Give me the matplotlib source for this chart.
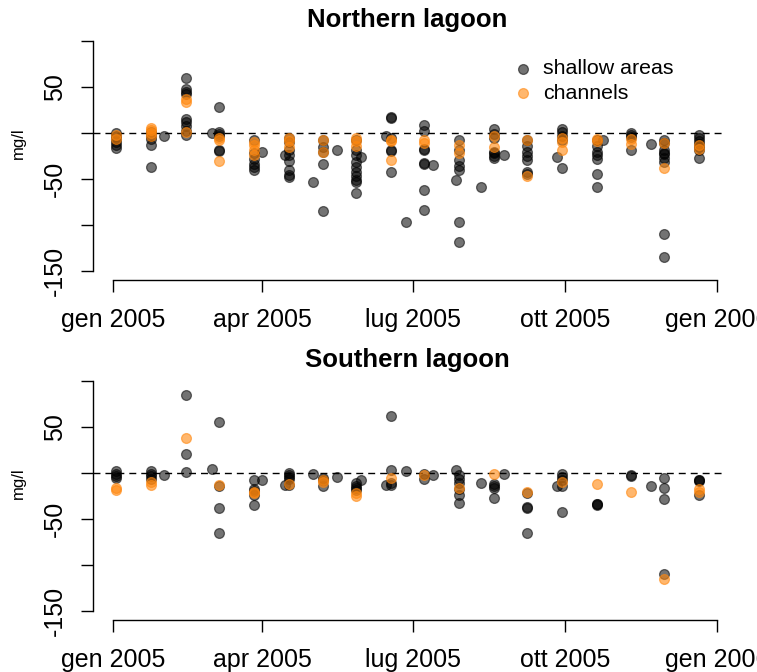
import matplotlib
matplotlib.use('Agg')
import matplotlib.pyplot as plt
import matplotlib.dates as mdates
import pandas as pd

plt.rcParams['font.family'] = ['Liberation Sans', 'DejaVu Sans']

# sampling dates (2005) and values in mg/l, one list per date
nord_date = ['01-03', '01-24', '02-01', '02-14', '03-02', '03-06', '03-27', '04-01',
             '04-15', '04-17', '05-02', '05-08', '05-16', '05-28', '05-31', '06-15',
             '06-18', '06-27', '07-08', '07-13', '07-27', '07-29', '08-11', '08-19',
             '08-25', '09-08', '09-26', '09-29', '10-20', '10-24', '11-10', '11-22',
             '11-30', '12-21']
nord_shallow = [[0, -3, -6, -10, -13, -16], [1, -3, -6, -13, -37], [-3],
                [60, 48, 45, 42, 15, 12, 8, 2, -2], [0], [28, 1, -1, -3, -18, -19],
                [-8, -22, -28, -33, -37, -40], [-20], [-24],
                [-5, -10, -18, -24, -30, -40, -45, -48], [-53], [-8, -15, -20, -33, -85],
                [-18], [-8, -18, -24, -31, -37, -42, -47, -51, -53, -65], [-26], [-3],
                [17, 16, -5, -18, -19, -42], [-97], [9, 2, -17, -18, -32, -33, -62, -84],
                [-35], [-51], [-8, -18, -29, -36, -40, -97, -118], [-58],
                [4, -1, -5, -20, -22, -25, -27], [-24], [-7, -14, -20, -25, -29, -42, -44],
                [-26], [4, 1, -3, -8, -38], [-7, -14, -20, -24, -28, -44, -59], [-8],
                [0, -2, -4, -18], [-12], [-7, -11, -18, -22, -23, -27, -31, -110, -134],
                [-2, -5, -9, -12, -15, -18, -27]]
nord_channels = [[-2, -6], [6, 3, 0, -3], [], [37, 34, 1], [], [-5, -8, -30],
                 [-10, -13, -18, -24], [], [], [-5, -9, -15], [], [-7, -21], [],
                 [-5, -9, -14], [], [], [-7, -9, -29], [], [-8, -11], [], [], [-13, -22],
                 [], [-3, -15], [], [-8, -47], [], [-5, -10, -18], [-6, -9], [],
                 [-6, -12], [], [-11, -38], [-13, -17]]

sud_date = ['01-03', '01-24', '02-01', '02-14', '03-02', '03-06', '03-27', '04-01',
            '04-15', '04-17', '05-02', '05-08', '05-16', '05-28', '05-31', '06-15',
            '06-18', '06-27', '07-08', '07-13', '07-27', '07-29', '08-11', '08-19',
            '08-25', '09-08', '09-26', '09-29', '10-20', '11-10', '11-22', '11-30',
            '12-21']
sud_shallow = [[2, -1, -3, -5], [2, -1, -3, -6], [-2], [85, 21, 1], [4], [56, -14, -38, -65],
               [-8, -17, -19, -24, -35], [-7], [-13], [0, -2, -4, -6, -13], [-1],
               [-5, -8, -14], [-4], [-11, -14, -16, -18], [-7], [-13], [62, 3, -11, -13],
               [2], [-1, -6], [-2], [3], [-2, -6, -11, -17, -24, -32], [-11],
               [-12, -14, -16, -27], [-1], [-22, -37, -38, -65], [-14],
               [-1, -4, -8, -14, -42], [-33, -34, -35], [-2, -3], [-14],
               [-5, -16, -28, -109], [-7, -8, -9, -24]]
sud_channels = [[-16, -18], [-10, -13], [], [38], [], [-13], [-20, -22], [], [], [-12], [],
                [-7, -10], [], [-22, -25], [], [], [-5], [], [-2], [], [], [-16], [], [-1],
                [], [-20], [], [-10], [-12], [-21], [], [-115], [-17, -20]]

xtick_date = ['2005-01-01', '2005-04-01', '2005-07-01', '2005-10-01', '2006-01-01']
xtick_lab = ['gen 2005', 'apr 2005', 'lug 2005', 'ott 2005', 'gen 2006']
ytick_val = [100, 50, 0, -50, -100, -150]
ytick_lab = ['', '50', '', '-50', '', '-150']


def espandi(date, gruppi):
    xx, yy = [], []
    for d, vals in zip(date, gruppi):
        for v in vals:
            xx.append(pd.Timestamp('2005-' + d))
            yy.append(v)
    return xx, yy


col_sh = (0, 0, 0, 0.55)
col_ch = (1.0, 0.53, 0.05, 0.6)
inizio = pd.Timestamp('2005-01-01')

fig = plt.figure(figsize=(7.57, 6.72), dpi=100)
ax1 = fig.add_axes([0.12285, 0.58259, 0.83091, 0.37009])
ax2 = fig.add_axes([0.12285, 0.07664, 0.83091, 0.37009])

pannelli = [(ax1, 'Northern lagoon', nord_date, nord_shallow, nord_channels),
            (ax2, 'Southern lagoon', sud_date, sud_shallow, sud_channels)]

for ax, titolo, date, sh, ch in pannelli:
    xs, ys = espandi(date, sh)
    xc, yc = espandi(date, ch)
    ax.scatter(xs, ys, s=50, color=col_sh, edgecolors=col_sh, linewidths=0.9, label='shallow areas', zorder=3)
    ax.scatter(xc, yc, s=50, color=col_ch, edgecolors=col_ch, linewidths=0.9, label='channels', zorder=3)
    ax.axhline(0, color='black', lw=1.0, ls=(0, (5, 3.6)), zorder=2)
    ax.set_xlim(inizio - pd.Timedelta(days=12.08), inizio + pd.Timedelta(days=367.75))
    ax.set_ylim(-160, 110)
    for s in ['top', 'right']:
        ax.spines[s].set_visible(False)
    ax.spines['left'].set_bounds(-150, 100)
    ax.spines['bottom'].set_bounds(mdates.date2num(pd.Timestamp('2005-01-01')),
                                   mdates.date2num(pd.Timestamp('2006-01-01')))
    ax.spines['left'].set_linewidth(1.0)
    ax.spines['bottom'].set_linewidth(1.0)
    ax.set_xticks([pd.Timestamp(d) for d in xtick_date], xtick_lab, fontsize=18)
    ax.set_yticks(ytick_val, ytick_lab, fontsize=18, rotation=90, va='center', ha='center')
    ax.tick_params(axis='x', length=8.6, width=1.0, pad=11.2)
    ax.tick_params(axis='y', length=8.6, width=1.0, pad=18.7)
    ax.set_title(titolo, fontsize=18.5, fontweight='bold', pad=1.2)

fig.text(18 / 757, 1 - 143 / 672, 'mg/l', rotation=90, ha='center', va='center', fontsize=12)
fig.text(18 / 757, 1 - 483 / 672, 'mg/l', rotation=90, ha='center', va='center', fontsize=12)

ax1.legend(loc='upper left', bbox_to_anchor=(0.6668, 0.89), frameon=False, fontsize=15.4,
           handlelength=1.0, handletextpad=0.44, borderpad=0, borderaxespad=0,
           labelspacing=0.27, scatterpoints=1)

plt.savefig('out.png', dpi=100)
